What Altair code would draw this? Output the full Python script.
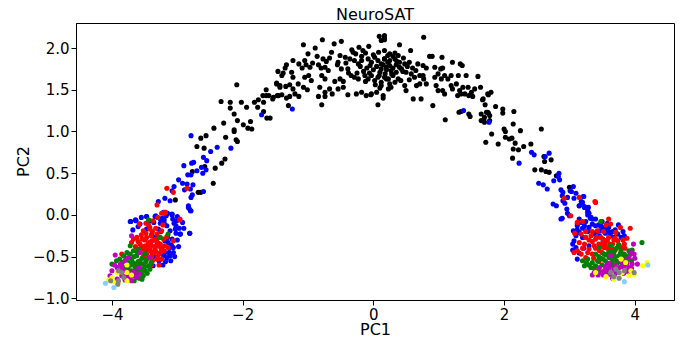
import altair as alt
import pandas as pd

# ---------------- data (PC1, PC2) ----------------
BLACK = [
    (-2.09, 1.56), (-1.64, 1.50), (-1.48, 1.57), (-1.43, 1.53), (-1.69, 1.43), (-1.64, 1.43), (-1.60, 1.43),
    (-1.45, 1.43), (-1.54, 1.39), (-1.76, 1.38), (-1.68, 1.35), (-2.33, 1.36), (-2.19, 1.35), (-2.02, 1.35),
    (-1.82, 1.35), (-2.19, 1.28), (-1.94, 1.29), (-1.77, 1.29), (-1.68, 1.24), (-2.13, 1.21), (-1.63, 1.16),
    (-1.58, 1.16), (-2.08, 1.13), (-1.88, 1.12), (-1.99, 1.08), (-2.29, 1.10), (-1.92, 1.04), (-1.86, 1.03),
    (-2.44, 1.04), (-2.13, 1.02), (-2.13, 1.00), (-2.56, 0.95), (-2.64, 0.92), (-2.26, 0.93), (-2.10, 0.90),
    (-2.08, 0.88), (-2.70, 0.82), (-2.59, 0.80), (-2.27, 0.67), (-2.32, 0.62), (-2.42, 0.56), (-2.58, 0.58),
    (-2.77, 0.52), (-2.45, 0.38), (-2.68, 0.27), (-2.64, 0.27), (-3.03, 0.18),
    (-0.78, 2.10), (-1.07, 2.04), (-0.89, 2.00), (-0.60, 2.05), (-0.49, 2.08), (-0.33, 1.98), (-0.31, 1.95),
    (-0.22, 2.01), (-0.07, 2.02), (-0.16, 1.97), (0.09, 2.14), (0.17, 2.12), (0.12, 2.09), (-0.64, 1.95),
    (-0.67, 1.88), (-1.00, 1.93), (-0.86, 1.90), (-0.51, 1.91), (-0.43, 1.89), (-0.77, 1.87), (-0.72, 1.84),
    (-1.05, 1.85), (-1.23, 1.85), (-0.54, 1.83), (-0.36, 1.87), (-0.29, 1.85), (-0.23, 1.81), (-0.18, 1.85),
    (-0.08, 1.87), (-0.03, 1.83), (0.02, 1.89), (0.07, 1.85), (0.12, 1.81), (0.17, 1.87), (0.22, 1.83),
    (-1.33, 1.80), (-1.35, 1.76), (-1.14, 1.81), (-1.09, 1.76), (-1.03, 1.80), (-0.97, 1.77), (-0.93, 1.82),
    (-0.84, 1.80), (-0.80, 1.76), (-0.74, 1.77), (-0.69, 1.73), (-0.55, 1.80), (-0.49, 1.75), (-0.39, 1.75),
    (-1.46, 1.72), (-1.40, 1.67), (-1.38, 1.70), (-1.25, 1.71), (-1.23, 1.65), (-1.05, 1.65), (-0.99, 1.67),
    (-0.95, 1.61), (-0.79, 1.67), (-0.74, 1.63), (-0.59, 1.60), (-0.51, 1.63), (-0.46, 1.60), (-0.34, 1.67),
    (-0.29, 1.65), (-0.23, 1.63), (-0.13, 1.67), (-0.08, 1.63), (-0.03, 1.67), (0.02, 1.61), (0.07, 1.65),
    (0.12, 1.59), (0.20, 1.63), (0.25, 1.57), (-1.48, 1.58), (-1.43, 1.55), (-1.34, 1.54), (-1.28, 1.56),
    (-1.23, 1.51), (-1.15, 1.57), (-1.07, 1.53), (-1.01, 1.50), (-0.82, 1.53), (-0.74, 1.47), (-0.67, 1.51),
    (-0.54, 1.51), (-0.46, 1.53), (-0.26, 1.45), (-0.18, 1.47), (-0.11, 1.43), (-0.03, 1.45), (0.05, 1.47),
    (0.15, 1.43), (-1.53, 1.41), (-1.47, 1.43), (-1.40, 1.44), (-1.33, 1.40), (-1.28, 1.42), (-1.20, 1.45),
    (-1.14, 1.42), (-0.84, 1.42), (-0.74, 1.42), (-0.63, 1.45), (-0.39, 1.44), (-0.04, 1.44), (-0.79, 1.32),
    (0.07, 1.32), (-1.30, 1.31),
    (0.17, 2.15), (0.17, 2.10), (0.77, 2.13), (0.40, 2.04), (0.17, 1.97), (0.25, 1.93), (0.33, 1.94),
    (0.57, 1.97), (0.86, 1.90), (0.90, 1.90), (1.05, 1.89), (0.17, 1.87), (0.25, 1.85), (0.33, 1.87),
    (0.40, 1.83), (0.48, 1.81), (0.55, 1.83), (0.68, 1.81), (0.76, 1.79), (0.81, 1.76), (0.94, 1.77),
    (1.03, 1.75), (1.06, 1.76), (1.21, 1.83), (1.33, 1.81), (1.36, 1.79), (0.12, 1.75), (0.20, 1.77),
    (0.27, 1.73), (0.35, 1.71), (0.43, 1.75), (0.17, 1.65), (0.23, 1.63), (0.30, 1.67), (0.38, 1.63),
    (0.50, 1.71), (0.58, 1.69), (0.63, 1.65), (0.71, 1.67), (0.76, 1.67), (0.77, 1.63), (0.94, 1.65),
    (0.99, 1.69), (1.04, 1.63), (1.09, 1.67), (1.14, 1.63), (1.19, 1.67), (1.30, 1.67), (1.42, 1.67),
    (1.60, 1.66), (0.12, 1.55), (0.23, 1.51), (0.27, 1.53), (0.48, 1.55), (0.50, 1.49), (0.66, 1.55),
    (0.71, 1.57), (0.81, 1.57), (0.96, 1.55), (0.99, 1.49), (1.06, 1.49), (1.09, 1.45), (1.19, 1.55),
    (1.21, 1.51), (1.27, 1.57), (1.32, 1.49), (1.37, 1.53), (1.40, 1.45), (1.45, 1.53), (1.50, 1.47),
    (1.55, 1.51), (1.64, 1.53), (1.29, 1.43), (1.34, 1.45), (1.46, 1.43), (1.52, 1.42), (1.75, 1.45),
    (1.80, 1.47), (0.15, 1.40), (0.61, 1.39), (0.73, 1.39), (0.91, 1.31), (1.67, 1.38), (1.71, 1.32),
    (1.87, 1.30), (1.31, 1.23), (1.34, 1.24), (1.46, 1.21), (1.48, 1.18), (1.65, 1.21), (1.70, 1.17),
    (1.75, 1.23), (1.78, 1.19), (1.10, 1.14), (1.65, 1.13), (1.70, 1.11), (1.81, 0.97),
    (1.68, 1.39), (1.76, 1.44), (1.73, 1.23), (1.76, 1.22), (1.69, 1.14), (1.78, 1.13), (1.98, 1.27),
    (1.98, 1.22), (2.15, 1.24), (2.14, 1.09), (2.00, 1.03), (2.02, 1.00), (2.25, 1.01), (2.57, 1.03),
    (2.02, 0.93), (2.08, 0.91), (2.12, 0.92), (1.72, 0.87), (1.91, 0.85), (2.17, 0.86), (2.30, 0.82),
    (2.41, 0.85), (2.14, 0.79), (2.22, 0.78), (2.13, 0.68), (2.61, 0.70), (2.62, 0.64), (2.72, 0.66),
    (2.47, 0.54), (2.57, 0.54), (2.64, 0.52), (2.69, 0.51), (2.80, 0.47), (3.00, 0.33), (3.15, 0.11),
    (-0.20, 1.78), (-0.15, 1.72), (-0.10, 1.76), (-0.05, 1.79), (0.00, 1.74), (0.05, 1.78), (0.10, 1.71),
    (0.15, 1.80), (0.20, 1.74), (0.25, 1.79), (0.30, 1.76), (0.35, 1.80), (0.40, 1.77), (0.45, 1.72),
    (-0.25, 1.70), (-0.18, 1.90), (0.00, 1.92), (0.08, 1.95), (0.22, 1.91), (0.30, 1.90), (0.38, 1.91),
    (-0.12, 1.60), (0.03, 1.56), (0.10, 1.52), (0.33, 1.59), (0.42, 1.61), (0.55, 1.62), (0.60, 1.76),
    (0.65, 1.73), (-0.38, 1.70), (-0.42, 1.82), (0.28, 1.69), (-0.06, 1.70), (0.18, 1.69), (0.09, 1.67),
    (0.36, 1.84), (0.46, 1.88), (0.52, 1.78), (-0.27, 1.93), (-0.12, 1.94),
]

BLUE = [
    (-1.71, 1.20), (-2.79, 0.95), (-2.39, 0.81), (-2.18, 0.80), (-2.49, 0.76), (-2.60, 0.69), (-2.55, 0.65),
    (-2.78, 0.62), (-2.75, 0.63), (-2.90, 0.59), (-2.63, 0.57), (-2.56, 0.54), (-2.70, 0.53), (-2.84, 0.48),
    (-2.79, 0.48), (-2.98, 0.42), (-2.92, 0.38), (-2.85, 0.37), (-3.05, 0.34), (-2.89, 0.30), (-2.80, 0.31),
    (-2.60, 0.28), (-3.08, 0.29), (-2.77, 0.24), (-2.79, 0.21), (-3.19, 0.20), (-3.29, 0.16), (-2.83, 0.11),
    (-2.82, 0.08), (-2.80, 0.05), (-3.11, 0.17), (-3.33, -0.01), (-3.16, 0.01), (-3.08, 0.00), (-3.23, -0.04),
    (-3.20, -0.06), (-1.24, 1.27), (-2.76, 0.36), (-2.81, -0.22), (-2.95, -0.23), (-3.02, -0.13),
    (-3.71, -0.08), (-3.64, -0.06), (-3.47, -0.02), (-2.61, 0.50),
    (-3.72, -0.08), (-3.63, -0.07), (-3.57, -0.11), (-3.47, -0.02), (-3.42, -0.07), (-3.34, -0.02),
    (-3.26, -0.05), (-3.21, 0.03), (-3.17, -0.01), (-3.15, 0.02), (-3.08, 0.01), (-3.07, -0.05),
    (-3.01, -0.07), (-2.92, -0.09), (-2.83, 0.09), (-2.79, 0.05), (-3.29, -0.17), (-3.16, -0.13),
    (-3.11, -0.19), (-3.03, -0.17), (-2.97, -0.16), (-2.96, -0.23), (-2.81, -0.22), (-3.19, -0.31),
    (-3.14, -0.33), (-3.08, -0.29), (-3.06, -0.39), (-3.19, -0.45), (-3.16, -0.51), (-3.21, -0.49),
    (-3.24, -0.39), (-3.31, -0.33), (-3.34, -0.27), (-3.47, -0.17), (-3.39, -0.23), (-3.06, -0.45),
    (-3.11, -0.49), (-3.37, -0.61), (-3.25, -0.20), (-3.12, -0.40), (-3.00, -0.30), (-3.20, -0.10),
    (-3.10, -0.55), (-3.02, -0.22), (-3.05, -0.10), (-2.98, -0.38), (-3.13, -0.45), (-3.18, -0.56),
    (-3.09, -0.36), (-3.15, -0.27), (-3.28, -0.55), (-3.35, -0.50), (-3.22, -0.60), (-3.04, -0.50),
    (-3.26, -0.10), (-3.36, -0.09), (-3.55, -0.03), (-3.60, -0.14), (-3.68, -0.18), (-2.90, -0.16),
    (-3.00, -0.02),
    (1.38, 1.25), (1.77, 1.11), (2.23, 0.62), (2.42, 0.75), (2.46, 0.72), (2.63, 0.70), (2.69, 0.74),
    (2.84, 0.50), (2.83, 0.46), (2.76, 0.41), (2.85, 0.42), (2.53, 0.38), (2.60, 0.36), (2.66, 0.31),
    (2.87, 0.30), (2.90, 0.27), (2.89, 0.23), (3.06, 0.34), (3.01, 0.29), (3.03, 0.28), (2.97, 0.21),
    (2.90, 0.17), (2.93, 0.14), (3.22, 0.22), (3.18, 0.16), (3.29, 0.09), (2.75, 0.13), (2.80, 0.11),
    (2.96, 0.07), (2.97, 0.02), (2.89, -0.04), (3.32, -0.04), (2.87, -0.05), (3.00, -0.01), (3.07, 0.20),
    (3.10, 0.26), (3.21, 0.22), (3.23, 0.09), (3.28, 0.03), (3.06, -0.19), (3.12, -0.13),
    (3.15, 0.11), (3.23, 0.10), (3.20, 0.15), (3.28, 0.05), (3.30, 0.02), (3.33, -0.03), (3.12, -0.11),
    (3.18, -0.09), (3.23, -0.13), (3.25, -0.19), (3.30, -0.15), (3.35, -0.11), (3.40, -0.13), (3.46, -0.19),
    (3.51, -0.15), (3.56, -0.17), (3.61, -0.21), (3.63, -0.25), (3.68, -0.27), (3.74, -0.23), (3.79, -0.27),
    (3.84, -0.25), (3.38, -0.23), (3.46, -0.25), (3.51, -0.29), (3.56, -0.31), (3.15, -0.21), (3.10, -0.25),
    (3.07, -0.31), (3.20, -0.27), (3.10, -0.39), (3.05, -0.35), (3.12, -0.53), (3.30, -0.37),
    (3.40, -0.05), (3.50, -0.08), (3.60, -0.15), (3.45, -0.12), (3.25, -0.08), (3.55, -0.22), (3.70, -0.18),
    (3.15, -0.05), (3.20, -0.16), (3.28, -0.20), (3.35, -0.05), (3.42, -0.20), (3.48, -0.13), (3.58, -0.10),
    (3.66, -0.20), (3.75, -0.12), (3.82, -0.20), (3.12, -0.18), (3.22, -0.40), (3.15, -0.46), (3.05, -0.42),
    (3.28, 0.00),
]

RED = [
    (-3.16, 0.32), (-2.85, 0.32), (-3.06, 0.27), (-3.31, 0.12), (-3.20, 0.02), (-3.18, 0.03), (-2.96, -0.05),
    (-3.58, -0.11), (-3.44, -0.12), (-3.24, 0.02), (-3.19, 0.03), (-2.96, -0.06), (-3.30, -0.03),
    (-3.52, -0.19), (-3.42, -0.17), (-3.31, -0.23), (-3.24, -0.19), (-3.16, -0.26), (-3.62, -0.27),
    (-3.54, -0.29), (-3.47, -0.27), (-3.39, -0.31), (-3.32, -0.29), (-3.26, -0.35), (-3.19, -0.37),
    (-3.14, -0.39), (-3.06, -0.31), (-3.49, -0.37), (-3.42, -0.39), (-3.34, -0.41), (-3.26, -0.45),
    (-3.47, -0.47), (-3.39, -0.49), (-3.31, -0.53), (-3.24, -0.53), (-3.52, -0.41), (-3.67, -0.29),
    (-3.57, -0.35), (-3.21, -0.29), (-3.85, -0.47), (-3.29, -0.37), (-3.36, -0.45), (-3.44, -0.33),
    (-3.40, -0.25), (-3.36, -0.30), (-3.45, -0.36), (-3.50, -0.30), (-3.28, -0.27), (-3.33, -0.44),
    (-3.38, -0.20), (-3.55, -0.24), (-3.46, -0.42), (-3.30, -0.50), (-3.58, -0.44), (-3.42, -0.15),
    (-3.48, -0.22), (-3.40, -0.36), (-3.35, -0.38), (-3.30, -0.33), (-3.25, -0.40), (-3.20, -0.43),
    (-3.28, -0.47), (-3.40, -0.44), (-3.52, -0.50), (-3.45, -0.52), (-3.38, -0.55), (-3.60, -0.32),
    (-3.64, -0.38), (-3.55, -0.38), (-3.33, -0.16), (-3.22, -0.12), (-3.48, -0.10), (-3.37, -0.07),
    (-3.28, -0.60), (-3.40, -0.60), (-3.70, -0.33),
    (2.92, 0.20), (3.15, 0.21), (3.02, -0.01), (3.39, 0.16), (3.08, -0.22), (3.93, -0.16),
    (3.40, 0.15), (3.12, -0.09), (3.20, -0.08), (3.56, -0.12), (3.63, -0.11), (3.18, -0.23),
    (3.25, -0.27), (3.33, -0.25), (3.40, -0.29), (3.48, -0.27), (3.58, -0.31), (3.66, -0.35), (3.74, -0.31),
    (3.79, -0.39), (3.23, -0.35), (3.30, -0.41), (3.38, -0.37), (3.46, -0.43), (3.53, -0.39), (3.61, -0.43),
    (3.12, -0.43), (3.07, -0.45), (3.18, -0.47), (3.35, -0.47), (3.25, -0.51), (3.84, -0.35), (3.51, -0.33),
    (3.71, -0.21), (3.43, -0.19), (3.45, -0.35), (3.50, -0.45), (3.55, -0.36), (3.60, -0.27), (3.40, -0.40),
    (3.30, -0.30), (3.65, -0.40), (3.70, -0.28), (3.35, -0.20),
    (3.20, -0.40), (3.28, -0.45), (3.35, -0.32), (3.42, -0.27), (3.48, -0.36), (3.52, -0.30), (3.58, -0.40),
    (3.62, -0.35), (3.68, -0.30), (3.76, -0.36), (3.82, -0.30), (3.88, -0.28), (3.70, -0.42), (3.37, -0.52),
    (3.45, -0.56), (3.15, -0.33), (3.25, -0.20), (3.52, -0.20), (3.60, -0.05), (3.78, -0.15), (3.85, -0.40),
]

GREEN = [
    (-3.44, -0.06), (-3.26, -0.27), (-3.14, -0.23), (-3.72, -0.37), (-3.67, -0.43), (-3.77, -0.45),
    (-3.82, -0.49), (-3.62, -0.49), (-3.70, -0.53), (-3.57, -0.55), (-3.75, -0.57), (-3.64, -0.59),
    (-3.52, -0.59), (-3.44, -0.61), (-3.57, -0.65), (-3.49, -0.67), (-3.70, -0.67), (-3.62, -0.71),
    (-3.52, -0.73), (-3.42, -0.65), (-3.80, -0.63), (-4.00, -0.59), (-3.59, -0.41), (-3.47, -0.53),
    (-3.67, -0.73), (-3.54, -0.77), (-3.66, -0.50), (-3.58, -0.60), (-3.70, -0.60), (-3.62, -0.66),
    (-3.55, -0.70), (-3.48, -0.56), (-3.75, -0.63), (-3.60, -0.56),
    (-3.72, -0.47), (-3.78, -0.52), (-3.68, -0.57), (-3.64, -0.63), (-3.56, -0.65), (-3.50, -0.62),
    (-3.46, -0.70), (-3.58, -0.76), (-3.66, -0.79), (-3.72, -0.70), (-3.84, -0.57), (-3.88, -0.53),
    (-3.54, -0.52), (-3.50, -0.46), (-3.40, -0.57), (-3.62, -0.44), (-3.93, -0.55),
    (3.48, -0.08), (4.11, -0.33), (3.46, -0.39), (3.53, -0.47), (3.61, -0.51), (3.68, -0.45), (3.76, -0.49),
    (3.84, -0.47), (3.89, -0.53), (3.66, -0.55), (3.74, -0.57), (3.51, -0.53), (3.43, -0.55), (3.35, -0.57),
    (3.33, -0.63), (3.40, -0.61), (3.58, -0.59), (3.23, -0.61), (3.20, -0.55), (3.81, -0.59), (3.91, -0.43),
    (3.63, -0.37), (3.79, -0.43), (3.28, -0.53), (3.55, -0.55), (3.60, -0.45), (3.70, -0.50), (3.50, -0.60),
    (3.65, -0.60), (3.45, -0.50), (3.72, -0.40), (3.80, -0.50),
    (3.40, -0.47), (3.48, -0.52), (3.56, -0.48), (3.64, -0.52), (3.72, -0.55), (3.78, -0.46), (3.86, -0.50),
    (3.92, -0.48), (3.96, -0.42), (3.30, -0.60), (3.38, -0.64), (3.58, -0.65), (3.66, -0.44), (3.75, -0.36),
    (3.95, -0.55), (3.26, -0.57), (3.45, -0.65),
]

MAGENTA = [
    (-3.70, -0.25), (-3.95, -0.48), (-3.80, -0.55), (-3.75, -0.51), (-3.87, -0.59), (-3.92, -0.63),
    (-3.82, -0.67), (-3.75, -0.69), (-3.85, -0.73), (-3.72, -0.75), (-3.62, -0.75), (-4.00, -0.67),
    (-4.03, -0.73), (-3.92, -0.77), (-3.59, -0.63), (-3.42, -0.51), (-3.57, -0.45),
    (-3.66, -0.68), (-3.70, -0.79), (-3.80, -0.78), (-3.88, -0.67), (-3.96, -0.60), (-3.85, -0.62),
    (-3.65, -0.73), (-3.78, -0.73), (-3.58, -0.70),
    (3.98, -0.35), (3.99, -0.47), (3.46, -0.63), (3.53, -0.67), (3.61, -0.63), (3.68, -0.65), (3.76, -0.63),
    (3.84, -0.61), (3.91, -0.63), (4.04, -0.59), (3.96, -0.59), (3.48, -0.69), (3.40, -0.67), (3.71, -0.69),
    (3.86, -0.67), (3.79, -0.55), (3.63, -0.49), (3.38, -0.69), (3.58, -0.69), (3.91, -0.51),
    (3.70, -0.60), (3.80, -0.62), (3.60, -0.58), (3.88, -0.58), (3.75, -0.72), (3.55, -0.62),
    (3.52, -0.72), (3.62, -0.71), (3.66, -0.76), (3.72, -0.64), (3.83, -0.70), (3.90, -0.68), (3.95, -0.64),
    (4.00, -0.52), (3.94, -0.45), (3.86, -0.55), (3.44, -0.72), (3.35, -0.72),
]

YELLOW = [
    (-3.77, -0.60), (-3.92, -0.69), (-4.00, -0.75), (-3.77, -0.69), (-3.70, -0.72), (-3.77, -0.79),
    (-3.90, -0.81), (-3.98, -0.80), (-4.05, -0.78),
    (3.79, -0.53), (4.19, -0.57), (4.12, -0.61), (3.86, -0.57), (3.40, -0.69), (3.56, -0.74), (3.68, -0.77),
    (3.91, -0.73), (3.94, -0.67), (3.99, -0.71), (3.81, -0.69), (3.76, -0.74),
]

GRAY = [
    (-3.90, -0.67), (-3.85, -0.69), (-3.82, -0.75), (-3.90, -0.79), (-3.91, -0.83), (-4.02, -0.79),
    (3.63, -0.69), (3.71, -0.65), (3.76, -0.69), (3.68, -0.74), (3.76, -0.76), (3.99, -0.69), (3.84, -0.67),
]

LIGHTBLUE = [
    (-4.10, -0.82), (-3.97, -0.87),
    (4.20, -0.60), (3.84, -0.80),
]

TITLE = "NeuroSAT"
X_TICKS = [-4, -2, 0, 2, 4]
Y_TICKS = [-1.0, -0.5, 0.0, 0.5, 1.0, 1.5, 2.0]

GROUPS = ["black", "blue", "red", "green", "magenta", "yellow", "gray", "lightblue"]
POINTS = [BLACK, BLUE, RED, GREEN, MAGENTA, YELLOW, GRAY, LIGHTBLUE]
COLORS = ["#000000", "#0000ff", "#ff0000", "#008000", "#bf00bf", "#ffff00", "#808080", "#87cefa"]

rows = []
for i, (name, pts) in enumerate(zip(GROUPS, POINTS)):
    for x, y in pts:
        rows.append({"pc1": x, "pc2": y, "grp": name, "ord": i})
df = pd.DataFrame(rows)

FONT = "DejaVu Sans"
minus = "replace(datum.label, '-', '\u2212')"

points = alt.Chart(df).mark_circle(size=26, opacity=1).encode(
    x=alt.X(
        "pc1:Q",
        scale=alt.Scale(domain=[-4.55, 4.6], nice=False, zero=False),
        axis=alt.Axis(
            values=X_TICKS, format="d", labelExpr=minus, title="PC1", grid=False,
            tickSize=5, labelPadding=2, titleX=299, titleY=34, titleBaseline="alphabetic",
            titleAlign="center",
        ),
    ),
    y=alt.Y(
        "pc2:Q",
        scale=alt.Scale(domain=[-1.02, 2.30], nice=False, zero=False),
        axis=alt.Axis(
            values=Y_TICKS, format=".1f", labelExpr=minus, title="PC2", grid=False,
            tickSize=5, labelPadding=2, titleX=-48, titleY=138, titleBaseline="alphabetic",
            titleAlign="center", titleAngle=270,
        ),
    ),
    color=alt.Color("grp:N", scale=alt.Scale(domain=GROUPS, range=COLORS), legend=None),
    order=alt.Order("ord:Q"),
)

title = alt.Chart(pd.DataFrame({"t": [TITLE]})).mark_text(
    font=FONT, fontSize=16, color="black", align="center", baseline="alphabetic"
).encode(text="t:N", x=alt.value(299), y=alt.value(-3))

chart = alt.layer(points, title).properties(
    width=598,
    height=277,
    autosize=alt.AutoSizeParams(type="none"),
    padding={"left": 68, "top": 15, "right": 6, "bottom": 43},
).configure_view(
    stroke="black", strokeWidth=1
).configure_axis(
    labelFont=FONT, labelFontSize=15, labelColor="black",
    titleFont=FONT, titleFontSize=16, titleFontWeight="normal", titleColor="black",
    tickColor="black", domainColor="black", domainWidth=1, tickWidth=1,
)

chart.save("out.html", embed_options={"renderer": "svg", "actions": False})
